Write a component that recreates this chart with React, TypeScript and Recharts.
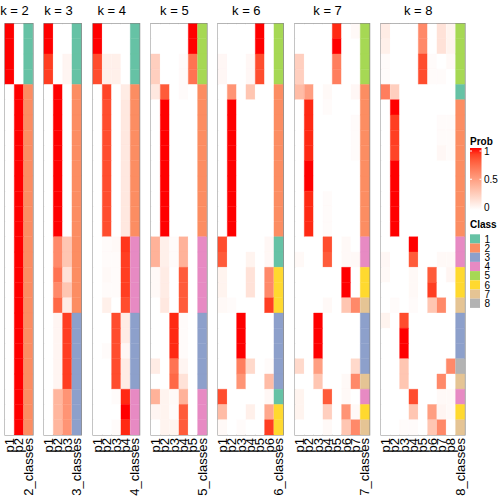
import React from 'react'
import { BarChart, Bar, Cell, XAxis, YAxis, ReferenceArea } from 'recharts'

const FONT = '"Liberation Sans", Arial, Helvetica, sans-serif'
const ROWS = 27

// class colours (Set2)
const classColors = ['#66C2A5', '#FC8D62', '#8DA0CB', '#E78AC3', '#A6D854', '#FFD92F', '#E5C494', '#B3B3B3']
const classLabels = ['1', '2', '3', '4', '5', '6', '7', '8']
const probTicks = [1, 0.5, 0]

// membership probabilities, one row per sample
const probK2 = [
  [1, 0], [1, 0], [1, 0], [1, 0],
  [0, 1], [0, 1], [0, 1], [0, 1], [0, 1], [0, 1], [0, 1], [0, 1], [0, 1], [0, 1],
  [0, 1], [0, 1], [0, 1], [0, 1], [0, 1], [0, 1], [0, 1], [0, 1], [0, 1], [0, 1],
  [0, 1], [0, 1], [0, 1],
]
const classK2 = [1, 1, 1, 1, 2, 2, 2, 2, 2, 2, 2, 2, 2, 2, 2, 2, 2, 2, 2, 2, 2, 2, 2, 2, 2, 2, 2]

const probK3 = [
  [1, 0, 0], [1, 0, 0], [0.9, 0, 0.05], [0.9, 0, 0.05],
  [0, 1, 0], [0, 1, 0], [0, 1, 0], [0, 1, 0], [0, 1, 0], [0, 1, 0], [0, 1, 0], [0, 1, 0], [0, 1, 0], [0, 1, 0],
  [0, 0.6, 0.3], [0, 0.6, 0.3], [0, 0.7, 0.15], [0, 0.6, 0.3], [0, 0.75, 0.1],
  [0, 0.05, 0.9], [0, 0.05, 0.9], [0, 0.05, 0.9], [0, 0.05, 0.9], [0, 0.05, 0.9],
  [0, 0.38, 0.55], [0, 0.38, 0.55], [0, 0.38, 0.55],
]
const classK3 = [1, 1, 1, 1, 2, 2, 2, 2, 2, 2, 2, 2, 2, 2, 2, 2, 2, 2, 2, 3, 3, 3, 3, 3, 3, 3, 3]

const probK4 = [
  [1, 0, 0, 0], [1, 0, 0, 0], [0.85, 0.08, 0.08, 0], [0.85, 0.08, 0.08, 0],
  [0, 0.88, 0, 0.1], [0, 0.85, 0, 0.12], [0, 0.85, 0, 0.12], [0, 0.85, 0, 0.12], [0, 0.85, 0, 0.12],
  [0, 0.85, 0, 0.12], [0, 0.85, 0, 0.12], [0, 0.85, 0, 0.12], [0, 0.85, 0, 0.12], [0, 0.85, 0, 0.12],
  [0, 0.02, 0.03, 0.92], [0, 0.02, 0.02, 0.9], [0, 0.03, 0.02, 0.9], [0, 0.02, 0.02, 0.9], [0, 0.08, 0, 0.85],
  [0, 0, 0.85, 0.1], [0, 0, 0.85, 0.1], [0, 0.02, 0.85, 0.04], [0, 0, 0.85, 0.1], [0, 0, 0.85, 0.1],
  [0, 0, 0.02, 0.95], [0, 0, 0, 1], [0, 0, 0.02, 0.95],
]
const classK4 = [1, 1, 1, 1, 2, 2, 2, 2, 2, 2, 2, 2, 2, 2, 4, 4, 4, 4, 4, 3, 3, 3, 3, 3, 4, 4, 4]

const probK5 = [
  [0, 0, 0, 0, 1], [0, 0, 0, 0, 1], [0.25, 0, 0, 0.02, 0.7], [0.25, 0, 0, 0.02, 0.7],
  [0.12, 0.8, 0, 0.02, 0], [0, 1, 0, 0, 0], [0, 1, 0, 0, 0], [0, 1, 0, 0, 0], [0, 1, 0, 0, 0],
  [0, 1, 0, 0, 0], [0, 1, 0, 0, 0], [0, 1, 0, 0, 0], [0, 1, 0, 0, 0], [0, 1, 0, 0, 0],
  [0.4, 0.08, 0.02, 0.4, 0], [0.4, 0.08, 0.02, 0.4, 0], [0.03, 0.1, 0, 0.8, 0], [0.03, 0.1, 0, 0.8, 0], [0, 0.12, 0, 0.8, 0],
  [0, 0, 0.95, 0.02, 0], [0, 0, 0.95, 0.02, 0], [0, 0, 0.95, 0.02, 0], [0.1, 0, 0.7, 0.05, 0], [0, 0, 0.75, 0.15, 0],
  [0.4, 0.06, 0.03, 0.4, 0], [0.05, 0.06, 0.02, 0.8, 0], [0, 0.06, 0.06, 0.8, 0],
]
const classK5 = [5, 5, 5, 5, 2, 2, 2, 2, 2, 2, 2, 2, 2, 2, 4, 4, 4, 4, 4, 3, 3, 3, 3, 3, 4, 4, 4]

const probK6 = [
  [0, 0, 0, 0, 1, 0], [0, 0, 0, 0, 1, 0], [0.04, 0, 0, 0.04, 0.85, 0], [0.04, 0, 0, 0.04, 0.85, 0],
  [0, 0.55, 0, 0.3, 0, 0], [0, 1, 0, 0, 0, 0], [0, 1, 0, 0, 0, 0], [0, 1, 0, 0, 0, 0], [0, 1, 0, 0, 0, 0],
  [0, 1, 0, 0, 0, 0], [0, 1, 0, 0, 0, 0], [0, 1, 0, 0, 0, 0], [0, 1, 0, 0, 0, 0], [0, 1, 0, 0, 0, 0],
  [0.85, 0, 0, 0, 0, 0.04], [0.8, 0, 0, 0.06, 0, 0.04], [0.06, 0, 0, 0.15, 0, 0.6], [0.06, 0, 0, 0.15, 0, 0.6],
  [0.03, 0.02, 0, 0, 0, 0.9],
  [0, 0, 1, 0, 0, 0], [0, 0, 1, 0, 0, 0], [0, 0, 1, 0, 0, 0], [0, 0, 0.65, 0.2, 0, 0.02], [0, 0, 0.55, 0, 0, 0.35],
  [0.85, 0, 0, 0, 0, 0.04], [0.35, 0, 0, 0.08, 0, 0.45], [0.03, 0, 0.02, 0, 0, 0.9],
]
const classK6 = [5, 5, 5, 5, 2, 2, 2, 2, 2, 2, 2, 2, 2, 2, 1, 1, 6, 6, 6, 3, 3, 3, 3, 3, 1, 6, 6]

const probK7 = [
  [0, 0, 0, 0, 0.95, 0, 0.03], [0, 0, 0, 0, 1, 0, 0], [0.25, 0, 0, 0, 0.65, 0, 0], [0.25, 0, 0, 0, 0.65, 0, 0],
  [0.35, 0.5, 0, 0.03, 0, 0, 0.04], [0, 0.95, 0, 0.02, 0, 0, 0], [0, 0.95, 0, 0, 0, 0, 0.02],
  [0, 0.95, 0, 0, 0, 0, 0.02], [0, 0.95, 0, 0, 0, 0, 0.02], [0, 1, 0, 0, 0, 0, 0], [0, 1, 0, 0, 0, 0, 0],
  [0, 0.95, 0, 0.02, 0, 0, 0], [0, 0.95, 0, 0.02, 0, 0, 0], [0, 0.95, 0, 0.02, 0, 0, 0],
  [0, 0, 0, 0.85, 0, 0.03, 0], [0.03, 0, 0, 0.8, 0, 0.03, 0.03], [0, 0, 0, 0, 0, 1, 0], [0, 0, 0, 0, 0, 1, 0],
  [0, 0, 0, 0.03, 0, 0.3, 0.6],
  [0, 0, 1, 0, 0, 0, 0], [0, 0, 1, 0, 0, 0, 0], [0, 0, 1, 0, 0, 0, 0], [0.2, 0, 0.5, 0, 0, 0, 0.2],
  [0, 0, 0.3, 0, 0, 0.03, 0.6],
  [0.06, 0, 0, 0.8, 0, 0.03, 0], [0.06, 0, 0, 0.25, 0, 0.55, 0.03], [0, 0, 0, 0.03, 0, 0.3, 0.6],
]
const classK7 = [5, 5, 5, 5, 2, 2, 2, 2, 2, 2, 2, 2, 2, 2, 4, 4, 6, 6, 7, 3, 3, 3, 3, 7, 4, 6, 7]

const probK8 = [
  [0.1, 0, 0, 0, 0.6, 0, 0.15, 0.06], [0.08, 0, 0, 0, 0.6, 0, 0.15, 0.06],
  [0.02, 0, 0, 0, 0.85, 0.02, 0, 0.03], [0.02, 0, 0, 0, 0.85, 0.02, 0.02, 0],
  [0.65, 0.25, 0, 0, 0, 0, 0, 0], [0, 1, 0, 0, 0, 0, 0, 0],
  [0, 0.9, 0, 0, 0, 0, 0.02, 0.02], [0, 0.9, 0, 0, 0, 0, 0.02, 0.02], [0, 0.88, 0, 0, 0, 0, 0.04, 0.02],
  [0, 1, 0, 0, 0, 0, 0, 0], [0, 1, 0, 0, 0, 0, 0, 0], [0, 1, 0, 0, 0, 0, 0, 0], [0, 1, 0, 0, 0, 0, 0, 0],
  [0, 1, 0, 0, 0, 0, 0, 0],
  [0, 0, 0, 1, 0, 0, 0, 0], [0.04, 0, 0, 0.8, 0, 0, 0.03, 0.03], [0.03, 0, 0, 0.03, 0, 0.8, 0, 0.05],
  [0, 0, 0, 0.03, 0, 0.9, 0, 0], [0, 0.02, 0, 0.02, 0, 0.3, 0.6, 0],
  [0.06, 0, 0.85, 0, 0, 0, 0, 0], [0, 0, 1, 0, 0, 0, 0, 0], [0, 0, 1, 0, 0, 0, 0, 0],
  [0, 0, 0.3, 0, 0, 0, 0, 0.6], [0, 0, 0.3, 0, 0, 0, 0.6, 0],
  [0, 0, 0, 0.85, 0, 0, 0.03, 0.03], [0, 0, 0, 0.3, 0, 0.5, 0.05, 0.03], [0, 0, 0.02, 0.02, 0, 0.3, 0.6, 0],
]
const classK8 = [5, 5, 5, 5, 1, 2, 2, 2, 2, 2, 2, 2, 2, 2, 4, 4, 6, 6, 7, 3, 3, 3, 8, 7, 4, 6, 7]

const panels = [
  { k: 2, prob: probK2, cls: classK2 },
  { k: 3, prob: probK3, cls: classK3 },
  { k: 4, prob: probK4, cls: classK4 },
  { k: 5, prob: probK5, cls: classK5 },
  { k: 6, prob: probK6, cls: classK6 },
  { k: 7, prob: probK7, cls: classK7 },
  { k: 8, prob: probK8, cls: classK8 },
]

// layout
const COL_W = 9.33
const GAP = 11.3
const FIRST_X = 5
const PLOT_TOP = 23.5
const PLOT_BOTTOM = 435
const XH = 60
const PAD = 4

// white -> red in LAB space
const toLin = (c: number) => {
  c /= 255
  return c <= 0.04045 ? c / 12.92 : ((c + 0.055) / 1.055) ** 2.4
}
const fromLin = (c: number) => {
  const v = c <= 0.0031308 ? 12.92 * c : 1.055 * c ** (1 / 2.4) - 0.055
  return Math.round(Math.max(0, Math.min(1, v)) * 255)
}
const rgbToLab = (r: number, g: number, b: number) => {
  const R = toLin(r), G = toLin(g), B = toLin(b)
  const x = (0.4124 * R + 0.3576 * G + 0.1805 * B) / 0.95047
  const y = 0.2126 * R + 0.7152 * G + 0.0722 * B
  const z = (0.0193 * R + 0.1192 * G + 0.9505 * B) / 1.08883
  const f = (t: number) => (t > 0.008856 ? Math.cbrt(t) : 7.787 * t + 16 / 116)
  const fx = f(x), fy = f(y), fz = f(z)
  return [116 * fy - 16, 500 * (fx - fy), 200 * (fy - fz)]
}
const labToHex = (L: number, a: number, bb: number) => {
  const fy = (L + 16) / 116
  const fx = fy + a / 500
  const fz = fy - bb / 200
  const inv = (t: number) => (t ** 3 > 0.008856 ? t ** 3 : (t - 16 / 116) / 7.787)
  const x = inv(fx) * 0.95047, y = inv(fy), z = inv(fz) * 1.08883
  const r = 3.2406 * x - 1.5372 * y - 0.4986 * z
  const g = -0.9689 * x + 1.8758 * y + 0.0415 * z
  const b = 0.0557 * x - 0.204 * y + 1.057 * z
  return '#' + [r, g, b].map((c) => fromLin(c).toString(16).padStart(2, '0')).join('')
}
const LAB_W = rgbToLab(255, 255, 255)
const LAB_R = rgbToLab(255, 0, 0)
const probColor = (p: number) =>
  labToHex(
    LAB_W[0] + (LAB_R[0] - LAB_W[0]) * p,
    LAB_W[1] + (LAB_R[1] - LAB_W[1]) * p,
    LAB_W[2] + (LAB_R[2] - LAB_W[2]) * p
  )

const RotTick = (props: any) => {
  const { x, y, payload } = props
  return (
    <text
      x={x}
      y={y}
      transform={`rotate(-90 ${x} ${y})`}
      textAnchor="end"
      dy="0.33em"
      fontSize={13}
      fill="#000"
      fontFamily={FONT}
    >
      {payload.value}
    </text>
  )
}

const rowIdx = Array.from({ length: ROWS }, (_, i) => i)

const Panel = ({ k, prob, cls, left }: any) => {
  const cols = [...Array.from({ length: k }, (_, j) => `p${j + 1}`), `${k}_classes`]
  // every cell is one unit tall; stacking the rows gives the heatmap grid
  const data = cols.map((name) => {
    const d: any = { name }
    rowIdx.forEach((i) => (d[`r${i}`] = 1))
    return d
  })
  const width = cols.length * COL_W + 2 * PAD
  return (
    <div style={{ position: 'absolute', left: left - PAD, top: 0 }}>
      <BarChart
        width={width}
        height={504}
        data={data}
        margin={{ top: PLOT_TOP, bottom: 504 - PLOT_BOTTOM - XH, left: PAD, right: PAD }}
        barCategoryGap={0}
        barGap={0}
      >
        <XAxis
          dataKey="name"
          interval={0}
          height={XH}
          axisLine={false}
          tickLine={false}
          tickSize={0}
          tickMargin={3}
          tick={(p: any) => <RotTick {...p} />}
        />
        <YAxis type="number" domain={[0, ROWS]} reversed hide allowDataOverflow />
        {rowIdx.map((i) => (
          <Bar key={i} dataKey={`r${i}`} stackId="s" isAnimationActive={false}>
            {cols.map((c, j) => {
              const fill = j < k ? probColor(prob[i][j]) : classColors[cls[i] - 1]
              return <Cell key={c} fill={fill} stroke={fill} strokeWidth={0.4} />
            })}
          </Bar>
        ))}
        <ReferenceArea
          x1={cols[0]}
          x2={cols[k]}
          y1={0}
          y2={ROWS}
          fill="none"
          fillOpacity={0}
          stroke="#858585"
          strokeWidth={1.2}
          ifOverflow="visible"
        />
      </BarChart>
    </div>
  )
}

export default function App() {
  let x = FIRST_X
  const lefts = panels.map((p) => {
    const l = x
    x += (p.k + 1) * COL_W + GAP
    return l
  })
  const gradStops = Array.from({ length: 11 }, (_, i) => i / 10)
  const gTop = 148, gBottom = 210, gLeft = 470, gW = 11.5
  const pY = (v: number) => 151 + (1 - v) * (207.5 - 151)
  return (
    <div
      style={{
        position: 'absolute',
        left: 0,
        top: 0,
        width: 504,
        height: 504,
        background: '#fff',
        fontFamily: FONT,
      }}
    >
      {panels.map((p, i) => (
        <Panel key={p.k} {...p} left={lefts[i]} />
      ))}
      <svg width={504} height={504} style={{ position: 'absolute', left: 0, top: 0, pointerEvents: 'none' }}>
        <defs>
          <linearGradient id="probGrad" x1="0" y1="0" x2="0" y2="1">
            {gradStops.map((s) => (
              <stop key={s} offset={s} stopColor={probColor(1 - s)} />
            ))}
          </linearGradient>
        </defs>
        {panels.map((p, i) => (
          <text
            key={p.k}
            x={lefts[i] + ((p.k + 1) * COL_W) / 2 - 4.5}
            y={15}
            textAnchor="middle"
            fontSize={13}
            fontFamily={FONT}
          >
            {`k = ${p.k}`}
          </text>
        ))}
        <text x={gLeft} y={144.5} fontSize={10} fontWeight="bold" fontFamily={FONT}>
          Prob
        </text>
        <rect x={gLeft} y={gTop} width={gW} height={gBottom - gTop} fill="url(#probGrad)" />
        {probTicks.slice(0, 2).map((v) => (
          <g key={v}>
            <line x1={gLeft} x2={gLeft + 2} y1={pY(v)} y2={pY(v)} stroke="#fff" strokeWidth={1} />
            <line x1={gLeft + gW - 2} x2={gLeft + gW} y1={pY(v)} y2={pY(v)} stroke="#fff" strokeWidth={1} />
          </g>
        ))}
        {probTicks.map((v) => (
          <text key={v} x={484} y={pY(v)} dy="0.35em" fontSize={10} fontFamily={FONT}>
            {v}
          </text>
        ))}
        <text x={gLeft} y={228} fontSize={10} fontWeight="bold" fontFamily={FONT}>
          Class
        </text>
        {classLabels.map((lab, i) => (
          <g key={lab}>
            <rect x={gLeft} y={234.3 + i * 9.2} width={10} height={9.2} fill={classColors[i]} />
            <text x={484.5} y={234.3 + i * 9.2 + 4.6} dy="0.36em" fontSize={10} fontFamily={FONT}>
              {lab}
            </text>
          </g>
        ))}
      </svg>
    </div>
  )
}
